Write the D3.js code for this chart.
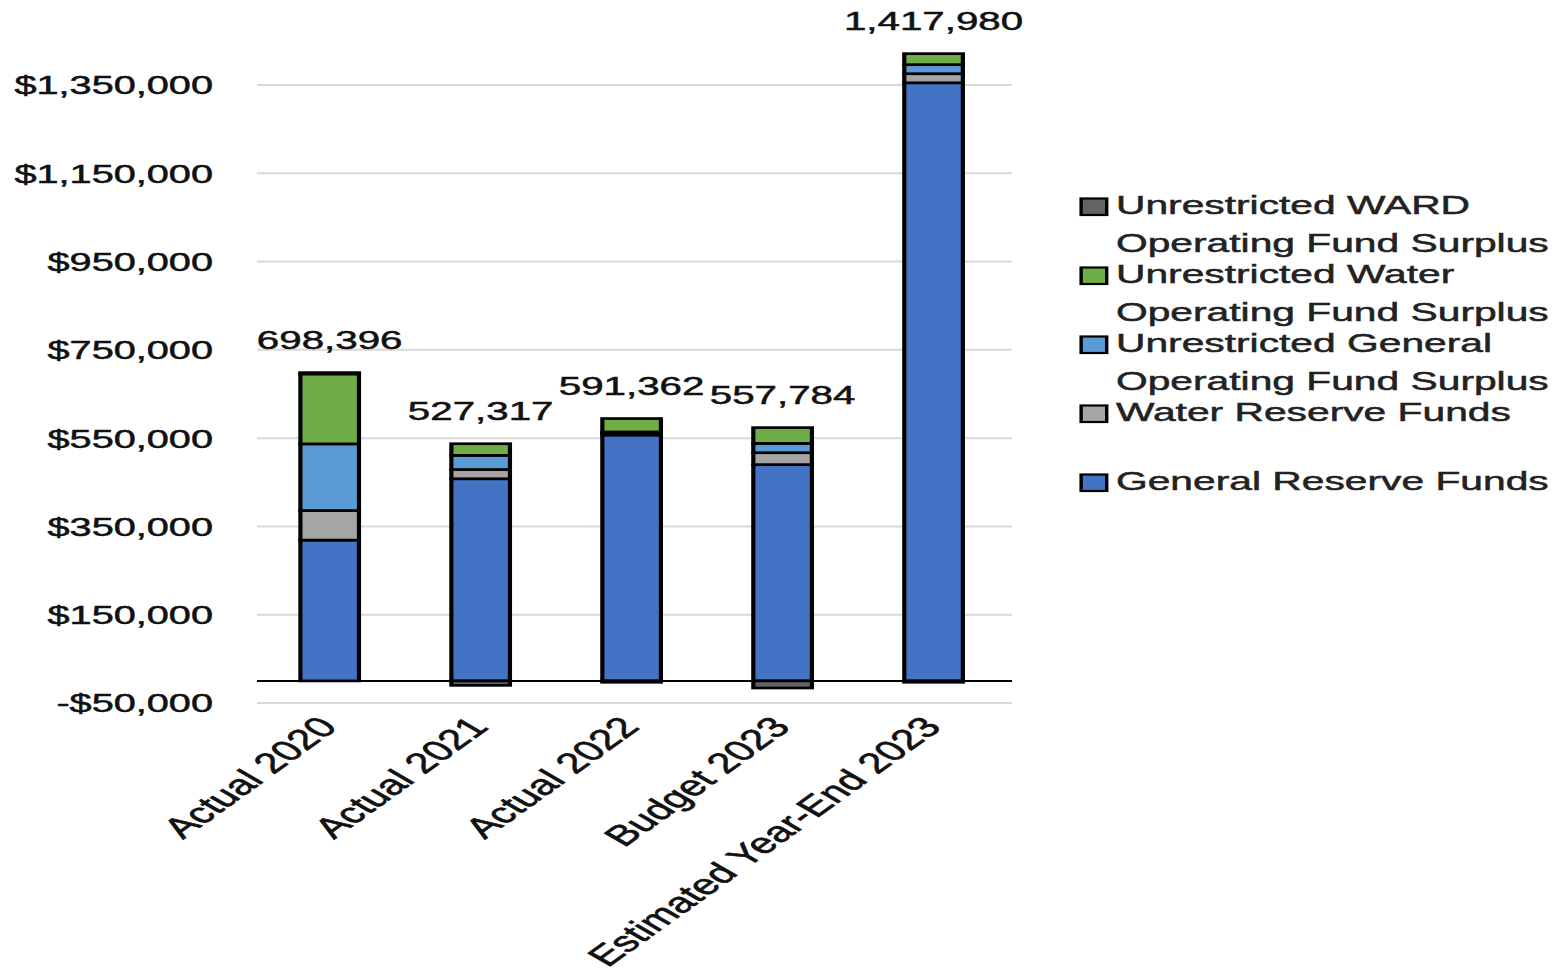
<!DOCTYPE html>
<html>
<head>
<meta charset="utf-8">
<script src="https://cdn.jsdelivr.net/npm/d3@7"></script>
<style>
  html, body { margin: 0; padding: 0; background: #ffffff; }
  svg { display: block; }
</style>
</head>
<body>
<svg id="chart" width="1564" height="977"></svg>
<script>
// ---- Data -------------------------------------------------------------
const categories = ["Actual 2020", "Actual 2021", "Actual 2022", "Budget 2023", "Estimated Year-End 2023"];

const generalReserveFunds     = [319000, 458000, 557000, 490000, 1355000];
const waterReserveFunds       = [67000, 21000, 4000, 27000, 20500];
const unrestrictedGeneralOFS  = [151000, 32000, 3000, 21000, 20500];
const unrestrictedWaterOFS    = [158396, 26317, 30362, 35784, 24980];
const unrestrictedWardOFS     = [3000, -10000, -3000, -16000, -3000];

// stacking order, bottom to top
const seriesKeys  = ["general", "water", "unrGeneral", "unrWater", "ward"];
const seriesNames = [
  "General Reserve Funds",
  "Water Reserve Funds",
  "Unrestricted General Operating Fund Surplus",
  "Unrestricted Water Operating Fund Surplus",
  "Unrestricted WARD Operating Fund Surplus"
];
const seriesColors = ["#4472C4", "#A5A5A5", "#5B9BD5", "#70AD47", "#636363"];

const tickValues = [-50000, 150000, 350000, 550000, 750000, 950000, 1150000, 1350000];
const tickLabels = ["-$50,000", "$150,000", "$350,000", "$550,000", "$750,000", "$950,000", "$1,150,000", "$1,350,000"];

// ---- Layout ------------------------------------------------------------
const W = 1564, H = 977;
const SX = 1.55;                 // the chart is laid out narrow and widened horizontally
const plot = { left: 164, right: 651, top: -3.3, bottom: 703 };
const gridX = [165.8, 652.9];
const FONT = "'Liberation Sans', Arial, sans-serif";

const rows = categories.map((c, i) => ({
  category: c,
  general: generalReserveFunds[i],
  water: waterReserveFunds[i],
  unrGeneral: unrestrictedGeneralOFS[i],
  unrWater: unrestrictedWaterOFS[i],
  ward: unrestrictedWardOFS[i]
}));

const stacked = d3.stack()
  .keys(seriesKeys)
  .offset(d3.stackOffsetDiverging)(rows);

const x = d3.scaleBand()
  .domain(categories)
  .range([plot.left, plot.right])
  .paddingInner(0.612)
  .paddingOuter(0.306);

const y = d3.scaleLinear()
  .domain([-50000, 1550000])
  .range([plot.bottom, plot.top]);

const svg = d3.select("#chart");
svg.append("rect").attr("width", W).attr("height", H).attr("fill", "#ffffff");

const root = svg.append("g").attr("transform", `scale(${SX},1)`);

// gridlines
root.append("g")
  .selectAll("line")
  .data(tickValues)
  .join("line")
  .attr("x1", gridX[0]).attr("x2", gridX[1])
  .attr("y1", d => y(d)).attr("y2", d => y(d))
  .attr("stroke", "#d9d9d9")
  .attr("stroke-width", 2);

// y-axis labels
const yAxis = d3.axisLeft(y)
  .tickValues(tickValues)
  .tickFormat((d, i) => tickLabels[i])
  .tickSize(0)
  .tickPadding(0);

const yAxisG = root.append("g")
  .attr("transform", `translate(137.4,0)`)
  .call(yAxis);
yAxisG.select(".domain").remove();
yAxisG.selectAll("text")
  .attr("font-family", FONT)
  .attr("font-size", 25.6)
  .attr("fill", "#111111")
  .attr("stroke", "#111111")
  .attr("stroke-width", 0.5)
  .attr("x", 0)
  .attr("dy", "0.35em");

// stacked bars
const layer = root.append("g")
  .selectAll("g")
  .data(stacked)
  .join("g")
  .attr("fill", (d, i) => seriesColors[i]);

layer.selectAll("rect")
  .data(d => d)
  .join("rect")
  .attr("x", d => x(d.data.category))
  .attr("width", x.bandwidth())
  .attr("y", d => y(Math.max(d[0], d[1])))
  .attr("height", d => Math.abs(y(d[0]) - y(d[1])))
  .attr("stroke", "#000000")
  .attr("stroke-width", 2.7);

// zero line
root.append("line")
  .attr("x1", gridX[0]).attr("x2", gridX[1])
  .attr("y1", y(0)).attr("y2", y(0))
  .attr("stroke", "#000000")
  .attr("stroke-width", 2);

// total labels above each bar
const fmt = d3.format(",");
root.append("g")
  .selectAll("text")
  .data(rows)
  .join("text")
  .attr("x", d => x(d.category) + x.bandwidth() / 2)
  .attr("y", d => {
    const posTop = seriesKeys.reduce((s, k) => s + Math.max(0, d[k]), 0);
    return y(posTop) - 24;
  })
  .attr("text-anchor", "middle")
  .attr("font-family", FONT)
  .attr("font-size", 26)
  .attr("fill", "#111111")
  .attr("stroke", "#111111")
  .attr("stroke-width", 0.5)
  .text(d => fmt(seriesKeys.reduce((s, k) => s + d[k], 0)));

// category labels, rotated
root.append("g")
  .selectAll("g")
  .data(categories)
  .join("g")
  .attr("transform", d => `translate(${x(d) + x.bandwidth() / 2 + 6},728) rotate(-48)`)
  .append("text")
  .attr("text-anchor", "end")
  .attr("font-family", FONT)
  .attr("font-size", 28.5)
  .attr("fill", "#111111")
  .attr("stroke", "#111111")
  .attr("stroke-width", 0.6)
  .text(d => d);

// legend (top entry is the last stacked series)
const legendOrder = seriesKeys.map((k, i) => i).reverse();
const legend = root.append("g");
legendOrder.forEach((si, row) => {
  const base = 214 + row * 69;
  legend.append("rect")
    .attr("x", 697.5)
    .attr("y", base - 15.5)
    .attr("width", 16.5)
    .attr("height", 16.5)
    .attr("fill", seriesColors[si])
    .attr("stroke", "#000000")
    .attr("stroke-width", 2.2);
  const name = seriesNames[si];
  const cut = name.indexOf(" Operating");
  const lines = cut > 0 ? [name.slice(0, cut), name.slice(cut + 1)] : [name];
  lines.forEach((ln, j) => {
    legend.append("text")
      .attr("x", 720)
      .attr("y", base + j * 38)
      .attr("font-family", FONT)
      .attr("font-size", 26.3)
      .attr("fill", "#222222")
      .attr("stroke", "#222222")
      .attr("stroke-width", 0.5)
      .text(ln);
  });
});
</script>
</body>
</html>
